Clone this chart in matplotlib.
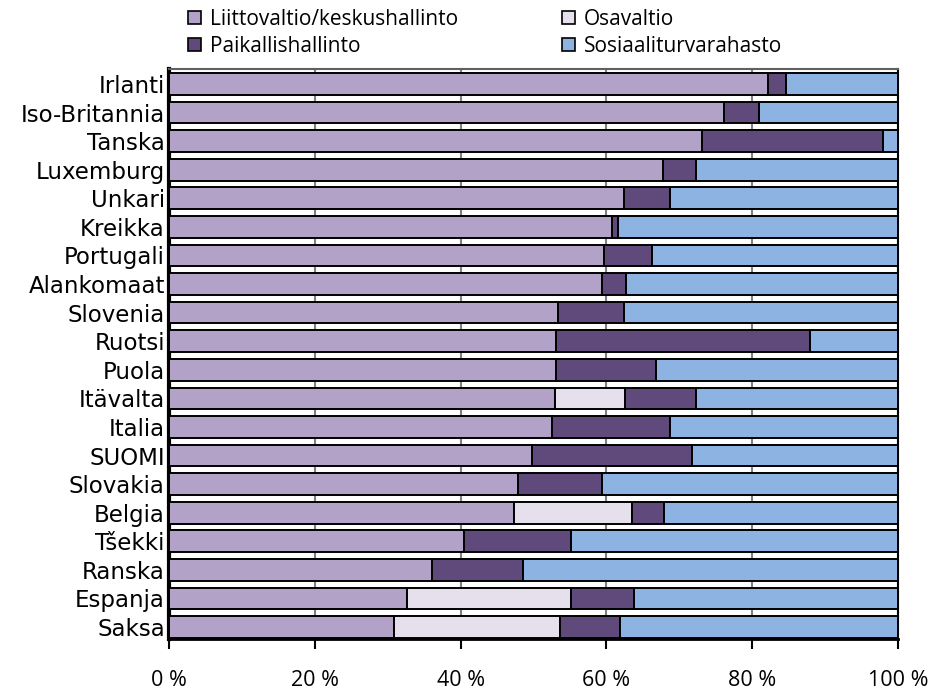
import matplotlib
matplotlib.use("Agg")
import matplotlib.pyplot as plt
from matplotlib.patches import Patch
import numpy as np

plt.rcParams['font.family'] = ['Open Sans', 'DejaVu Sans']

countries = ["Irlanti", "Iso-Britannia", "Tanska", "Luxemburg", "Unkari", "Kreikka",
             "Portugali", "Alankomaat", "Slovenia", "Ruotsi", "Puola", "Itävalta",
             "Italia", "SUOMI", "Slovakia", "Belgia", "Tšekki", "Ranska", "Espanja", "Saksa"]

# Shares of tax revenue by level of government (%)
liittovaltio = [82.2, 76.2, 73.1, 67.7, 62.4, 60.8, 59.7, 59.4, 53.4, 53.1,
                53.1, 52.9, 52.5, 49.8, 47.9, 47.3, 40.4, 36.1, 32.6, 30.9]
osavaltio = [0.0, 0.0, 0.0, 0.0, 0.0, 0.0, 0.0, 0.0, 0.0, 0.0,
             0.0, 9.7, 0.0, 0.0, 0.0, 16.2, 0.0, 0.0, 22.5, 22.8]
paikallis = [2.5, 4.7, 24.8, 4.6, 6.3, 0.8, 6.6, 3.3, 9.0, 34.8,
             13.7, 9.7, 16.2, 22.0, 11.5, 4.4, 14.7, 12.4, 8.7, 8.2]
sosiaali = [100 - a - b - c for a, b, c in zip(liittovaltio, osavaltio, paikallis)]

series_names = ["Liittovaltio/keskushallinto", "Osavaltio", "Paikallishallinto", "Sosiaaliturvarahasto"]
colors = ["#B3A2C7", "#E5E0EC", "#604A7B", "#8DB3E2"]
xticks = [0, 20, 40, 60, 80, 100]
xtick_labels = ["0 %", "20 %", "40 %", "60 %", "80 %", "100 %"]

fig = plt.figure(figsize=(9.34, 6.95), dpi=100)
ax = fig.add_axes([169 / 934, 1 - 639 / 695, (898 - 169) / 934, (639 - 69) / 695])

y = np.arange(len(countries))
left = np.zeros(len(countries))
for vals, col in zip([liittovaltio, osavaltio, paikallis, sosiaali], colors):
    vals = np.array(vals)
    ax.barh(y, vals, left=left, height=0.76, color=col, edgecolor="black",
            linewidth=1.4, zorder=3)
    left += vals

ax.set_xlim(0, 100)
ax.set_ylim(19.42, -0.525)
ax.set_yticks(y)
ax.set_yticklabels(countries, fontsize=16.5, family=['DejaVu Sans'])
ax.set_xticks(xticks)
ax.set_xticklabels(xtick_labels, fontsize=15.5)
ax.tick_params(axis="y", length=0, pad=3)
ax.tick_params(axis="x", length=7, width=1.5, pad=15, color="black")

ax.grid(axis="x", color="#808080", linewidth=1.5, zorder=0)
ax.set_axisbelow(True)

ax.spines["left"].set_linewidth(3)
ax.spines["left"].set_color("black")
ax.spines["bottom"].set_linewidth(2)
ax.spines["bottom"].set_color("black")
ax.spines["top"].set_linewidth(1.5)
ax.spines["top"].set_color("#606060")
ax.spines["right"].set_linewidth(1.5)
ax.spines["right"].set_color("black")

# Two-column legend above the plot, each column placed at its own x position
handles = [Patch(facecolor=c, edgecolor="black", linewidth=1.2) for c in colors]
legend_kw = dict(loc="upper left", frameon=False, fontsize=15, handlelength=0.62,
                 handleheight=0.62, handletextpad=0.43, labelspacing=0.27,
                 borderaxespad=0, borderpad=0)
fig.legend([handles[0], handles[2]], [series_names[0], series_names[2]],
           bbox_to_anchor=(188 / 934, 1 - 9 / 695), **legend_kw)
fig.legend([handles[1], handles[3]], [series_names[1], series_names[3]],
           bbox_to_anchor=(562 / 934, 1 - 9 / 695), **legend_kw)

fig.savefig("out.png", dpi=100)
